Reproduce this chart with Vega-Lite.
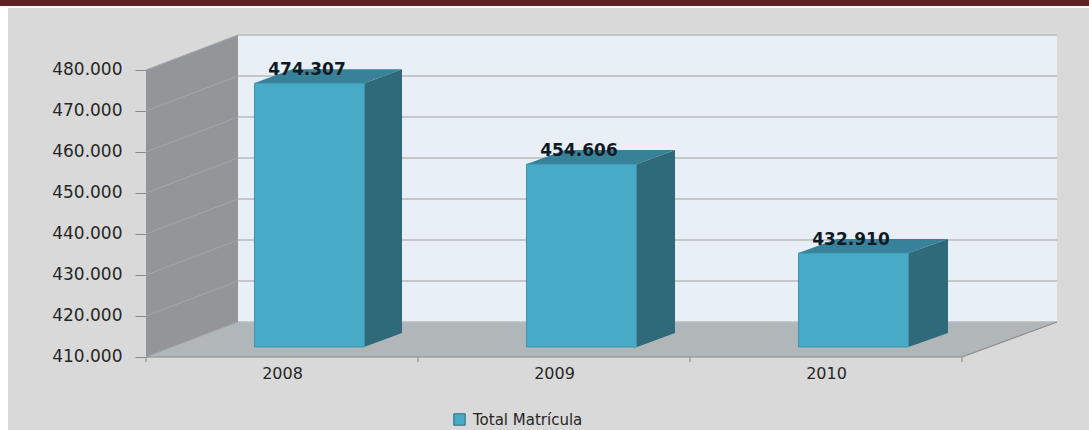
{
"$schema":"https://vega.github.io/schema/vega-lite/v6.json",
"width":1089,"height":430,"padding":0,"autosize":{"type":"none"},"background":"white",
"config":{"view":{"stroke":null},"font":"DejaVu Sans"},
"datasets":{
"matricula":[{"year":2008,"value":474307,"label":"474.307"},{"year":2009,"value":454606,"label":"454.606"},{"year":2010,"value":432910,"label":"432.910"}],
"levels":[{"level":410000},{"level":420000},{"level":430000},{"level":440000},{"level":450000},{"level":460000},{"level":470000},{"level":480000}],
"boundaries":[{"at":2007.5},{"at":2008.5},{"at":2009.5},{"at":2010.5}],
"shell":[
{"face":"panel","along":2006.9926,"hi":495122,"lo":392195},{"face":"panel","along":2010.9669,"hi":495122,"lo":392195},
{"face":"band","along":2006.9632,"hi":497073,"lo":495610},{"face":"band","along":2010.9669,"hi":497073,"lo":495610},
{"face":"wall","along":2007.8382,"hi":488537,"lo":418537},{"face":"wall","along":2010.8493,"hi":488537,"lo":418537},
{"face":"leftwall","along":2007.5,"hi":480000,"lo":410000},{"face":"leftwall","along":2007.8382,"hi":488537,"lo":418537},
{"face":"floor","along":2007.5,"hi":410000,"lo":410000},{"face":"floor","along":2007.8382,"hi":418537,"lo":410000},{"face":"floor","along":2010.5,"hi":418537,"lo":410000},{"face":"floor","along":2010.8493,"hi":418537,"lo":418537}
],
"depth":[
{"face":"side2008","along":2008.3015,"hi":476746,"lo":412439},{"face":"side2008","along":2008.4412,"hi":480161,"lo":415854},
{"face":"side2009","along":2009.3051,"hi":457045,"lo":412439},{"face":"side2009","along":2009.4449,"hi":460460,"lo":415854},
{"face":"side2010","along":2010.3033,"hi":435349,"lo":412439},{"face":"side2010","along":2010.4485,"hi":438764,"lo":415854},
{"face":"top2008","along":2007.8971,"hi":476746,"lo":476746},{"face":"top2008","along":2008.0368,"hi":480161,"lo":476746},{"face":"top2008","along":2008.3015,"hi":480161,"lo":476746},{"face":"top2008","along":2008.4412,"hi":480161,"lo":480161},
{"face":"top2009","along":2008.9007,"hi":457045,"lo":457045},{"face":"top2009","along":2009.0404,"hi":460460,"lo":457045},{"face":"top2009","along":2009.3051,"hi":460460,"lo":457045},{"face":"top2009","along":2009.4449,"hi":460460,"lo":460460},
{"face":"top2010","along":2009.8989,"hi":435349,"lo":435349},{"face":"top2010","along":2010.0386,"hi":438764,"lo":435349},{"face":"top2010","along":2010.3033,"hi":438764,"lo":435349},{"face":"top2010","along":2010.4485,"hi":438764,"lo":438764}
]
},
"layer":[
{"data":{"name":"shell"},"mark":{"type":"area"},
"encoding":{
"x":{"field":"along","type":"quantitative","title":null,"axis":null,"scale":{"domain":[2006.9632,2010.9669],"nice":false,"zero":false,"padding":0}},
"y":{"field":"hi","type":"quantitative","title":null,"axis":null,"scale":{"domain":[392195,497073],"nice":false,"zero":false}},
"y2":{"field":"lo"},
"fill":{"field":"face","type":"nominal","legend":null,"scale":{"domain":["panel","band","wall","leftwall","floor"],"range":["#d9d9d9","#5e2120","#e8eff7","#939598","#b1b6b9"]}}}},
{"data":{"name":"levels"},"mark":{"type":"rule","yOffset":-35,"stroke":"#b9bbbd","strokeWidth":1.6},
"encoding":{
"x":{"datum":2007.8382,"type":"quantitative","axis":null,"scale":{"domain":[2006.9632,2010.9669],"nice":false,"zero":false,"padding":0}},
"x2":{"datum":2010.8493},
"y":{"field":"level","type":"quantitative","title":null,"axis":null,"scale":{"domain":[392195,497073],"nice":false,"zero":false}}}},
{"data":{"name":"levels"},"mark":{"type":"rule","y2Offset":-35,"stroke":"#a3a5a7","strokeWidth":1},
"encoding":{
"x":{"datum":2007.5,"type":"quantitative","axis":null,"scale":{"domain":[2006.9632,2010.9669],"nice":false,"zero":false,"padding":0}},
"x2":{"datum":2007.8382},
"y":{"field":"level","type":"quantitative","title":null,"scale":{"domain":[392195,497073],"nice":false,"zero":false},
"axis":{"orient":"left","offset":-146,"zindex":1,"values":[410000,420000,430000,440000,450000,460000,470000,480000],"domain":false,"grid":false,"tickSize":11,"tickColor":"#8c8c8c","tickWidth":1,"labelPadding":13,"labelFont":"DejaVu Sans","labelFontSize":17,"labelColor":"#262626","labelExpr":"replace(format(datum.value,','),',','.')"}},
"y2":{"field":"level"}}},
{"data":{"name":"boundaries"},"mark":{"type":"rule","stroke":"#808080","strokeWidth":1},
"encoding":{
"x":{"field":"at","type":"quantitative","title":null,"axis":null,"scale":{"domain":[2006.9632,2010.9669],"nice":false,"zero":false,"padding":0}},
"y":{"datum":410000,"type":"quantitative","axis":null,"scale":{"domain":[392195,497073],"nice":false,"zero":false}},
"y2":{"datum":408780}}},
{"data":{"values":[{"x0":2007.5,"x1":2010.5,"y0":410000,"y1":410000},{"x0":2010.5,"x1":2010.8493,"y0":410000,"y1":418537}]},"mark":{"type":"rule","stroke":"#8c8c8c","strokeWidth":1.2},
"encoding":{
"x":{"field":"x0","type":"quantitative","title":null,"axis":null,"scale":{"domain":[2006.9632,2010.9669],"nice":false,"zero":false,"padding":0}},
"x2":{"field":"x1"},
"y":{"field":"y0","type":"quantitative","title":null,"axis":null,"scale":{"domain":[392195,497073],"nice":false,"zero":false}},
"y2":{"field":"y1"}}},
{"data":{"name":"depth"},"transform":[{"filter":"indexof(datum.face,'side')===0"}],"mark":{"type":"area","color":"#2f6a7a"},
"encoding":{
"x":{"field":"along","type":"quantitative","title":null,"axis":null,"scale":{"domain":[2006.9632,2010.9669],"nice":false,"zero":false,"padding":0}},
"y":{"field":"hi","type":"quantitative","title":null,"axis":null,"scale":{"domain":[392195,497073],"nice":false,"zero":false}},
"y2":{"field":"lo"},"detail":{"field":"face"}}},
{"data":{"name":"depth"},"transform":[{"filter":"indexof(datum.face,'top')===0"}],"mark":{"type":"area","color":"#378299"},
"encoding":{
"x":{"field":"along","type":"quantitative","title":null,"axis":null,"scale":{"domain":[2006.9632,2010.9669],"nice":false,"zero":false,"padding":0}},
"y":{"field":"hi","type":"quantitative","title":null,"axis":null,"scale":{"domain":[392195,497073],"nice":false,"zero":false}},
"y2":{"field":"lo"},"detail":{"field":"face"}}},
{"data":{"name":"matricula"},"mark":{"type":"bar","width":110,"xOffset":27.5,"yOffset":-10,"y2Offset":-10,"stroke":"#3f94ad","strokeWidth":1},
"encoding":{
"x":{"field":"year","type":"quantitative","title":null,"scale":{"domain":[2006.9632,2010.9669],"nice":false,"zero":false,"padding":0},
"axis":{"orient":"bottom","offset":-73,"zindex":1,"values":[2008,2009,2010],"format":"d","domain":false,"grid":false,"ticks":false,"labelPadding":8,"labelFont":"DejaVu Sans","labelFontSize":16,"labelColor":"#262626"}},
"y":{"field":"value","type":"quantitative","title":null,"axis":null,"scale":{"domain":[392195,497073],"nice":false,"zero":false}},
"y2":{"datum":410000},
"color":{"datum":"Total Matrícula","type":"nominal","scale":{"domain":["Total Matrícula"],"range":["#47abc8"]},
"legend":{"title":null,"orient":"none","legendX":452,"legendY":412,"symbolType":"square","symbolSize":130,"symbolStrokeColor":"#2f6a7a","symbolStrokeWidth":1,"labelFont":"DejaVu Sans","labelFontSize":15,"labelColor":"#262626","labelOffset":6,"padding":0}}}},
{"data":{"name":"matricula"},"mark":{"type":"text","xOffset":25,"yOffset":-23,"font":"DejaVu Sans","fontWeight":"bold","fontSize":17,"color":"#111a24","baseline":"middle","align":"center"},
"encoding":{
"x":{"field":"year","type":"quantitative","title":null,"axis":null,"scale":{"domain":[2006.9632,2010.9669],"nice":false,"zero":false,"padding":0}},
"y":{"field":"value","type":"quantitative","title":null,"axis":null,"scale":{"domain":[392195,497073],"nice":false,"zero":false}},
"text":{"field":"label"}}}
],
"resolve":{"axis":{"x":"independent","y":"independent"},"legend":{"color":"independent","fill":"independent"}}
}
